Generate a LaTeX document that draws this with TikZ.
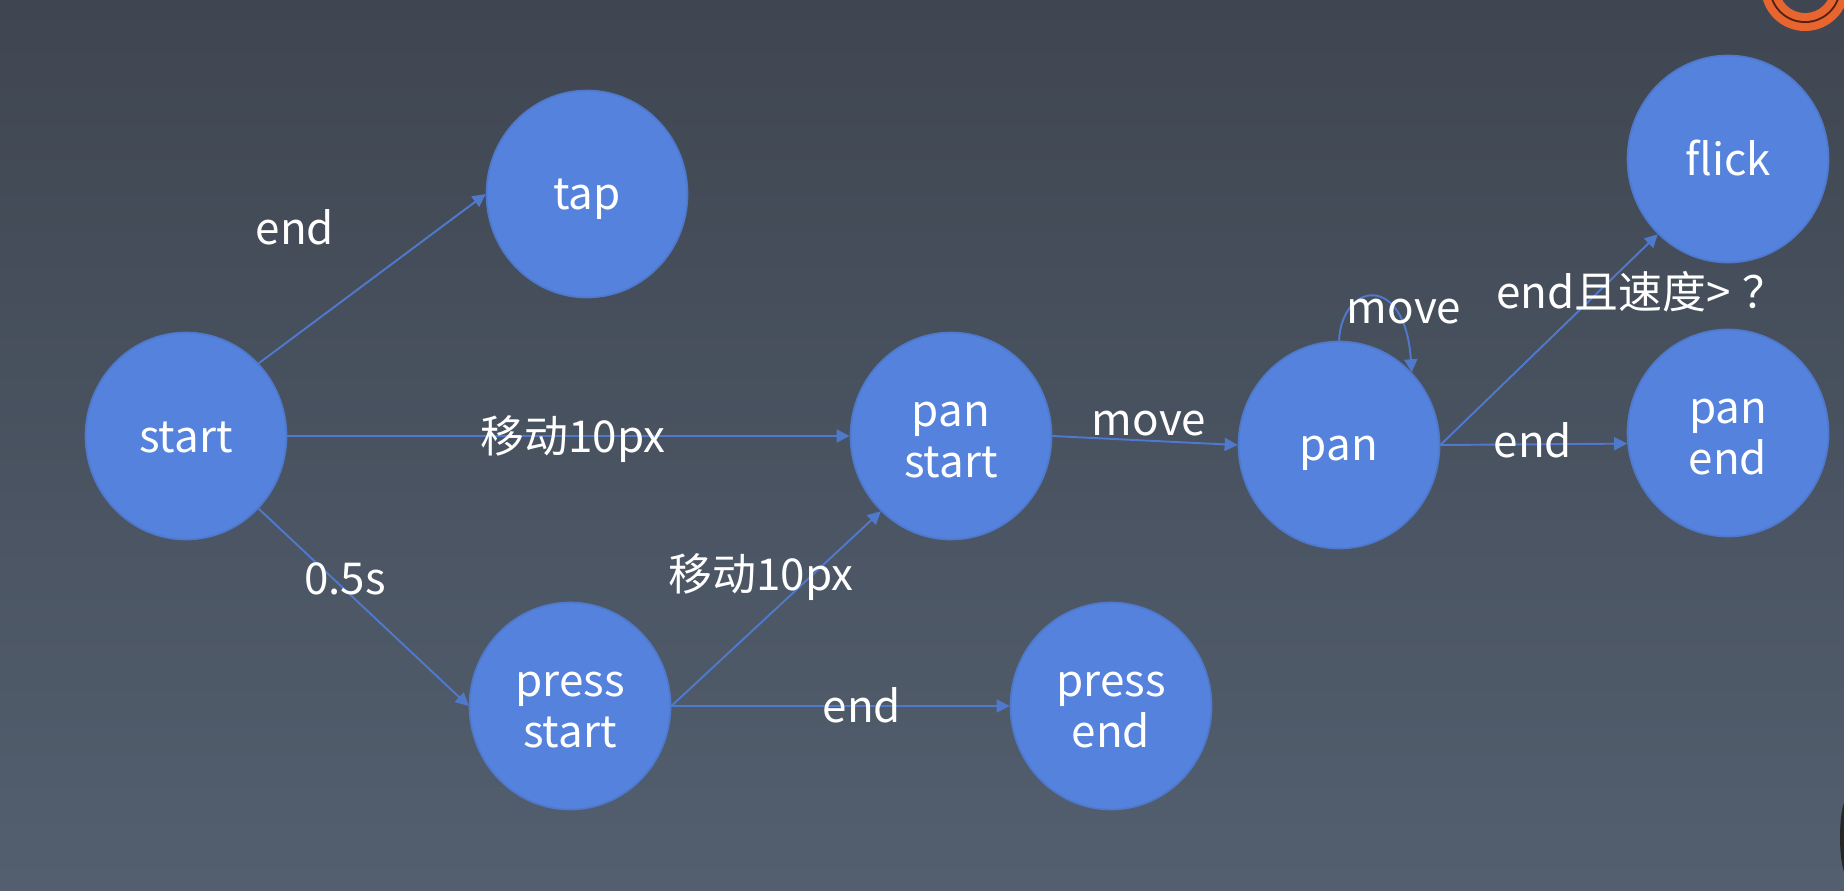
\documentclass[tikz,border=0pt]{standalone}
\usepackage{fontspec}
\setmainfont{Noto Sans CJK SC}
\usepackage{tikz}
\usetikzlibrary{shapes.geometric, arrows.meta}
\definecolor{bgtop}{HTML}{3F4651}
\definecolor{bgbottom}{HTML}{535F6F}
\definecolor{nodeblue}{HTML}{5482DC}
\definecolor{lineblue}{HTML}{4F79CC}
\definecolor{ringorange}{HTML}{E9652F}
\newcommand{\statefont}{\fontsize{25}{29}\selectfont\setlength{\lineskiplimit}{-10pt}}
\newcommand{\statestrut}{\rule[-5.2pt]{0pt}{29pt}}
\newcommand{\twolines}[2]{\statestrut #1\\\statestrut #2}
\tikzset{
	state/.style={draw=lineblue, line width=1pt, ellipse, fill=nodeblue, text=white, minimum width=4.02cm, minimum height=4.14cm, inner sep=0pt, align=center, font=\statefont},
	tag/.style={text=white, inner sep=0pt, font=\fontsize{25}{29}\selectfont},
	link/.style={draw=lineblue, line width=1.1pt, ->, >={Triangle[length=2.6mm, width=2.6mm]}},
}
\begin{document}
\begin{tikzpicture}[x=0.02cm, y=-0.02cm]
	\useasboundingbox (0, 0) rectangle (1844, 890);
	\clip (0, 0) rectangle (1844, 890);
	\shade[top color=bgtop, bottom color=bgbottom] (0, 0) rectangle (1844, 890);
	% corner marks
	\fill[ringorange] (1805, -13) circle[radius=44];
	\fill[ringorange!35!black] (1805, -13) circle[radius=36];
	\fill[ringorange] (1805, -13) circle[radius=34];
	\fill[bgtop] (1805, -13) circle[radius=26];
	\fill[black!85] (1848, 837) ellipse[x radius=8, y radius=40];
	% states
	\node[state] (start)at(186, 436) {\statestrut start};
	\node[state] (tap)at(587, 194) {\statestrut tap};
	\node[state] (panstart)at(951, 436) {\twolines{pan}{start}};
	\node[state] (pan)at(1339, 445) {\statestrut pan};
	\node[state] (flick)at(1728, 159) {\statestrut flick};
	\node[state] (panend)at(1728, 433) {\twolines{pan}{end}};
	\node[state] (pressstart)at(570, 706) {\twolines{press}{start}};
	\node[state] (pressend)at(1111, 706) {\twolines{press}{end}};
	% connectors
	\draw[link] (start.45) -- (tap.180);
	\draw[link] (start.0) -- (panstart.180);
	\draw[link] (start.-45) -- (pressstart.180);
	\draw[link] (pressstart.0) -- (panstart.-133);
	\draw[link] (pressstart.0) -- (pressend.180);
	\draw[link] (panstart.0) -- (pan.180);
	\draw[link] (pan.0) -- (panend.186);
	\draw[link] (pan.0) -- (flick.-133);
	\draw[link] (pan.90) .. controls (1342, 282) and (1405, 272) .. (pan.45);
	% labels
	\node[tag] (endtap)at(295, 227) {end};
	\node[tag] (movea)at(573, 439) {移动10px};
	\node[tag] (halfsec)at(345, 579) {0.5s};
	\node[tag] (moveb)at(761, 577) {移动10px};
	\node[tag] (endpress)at(862, 705) {end};
	\node[tag] (movec)at(1149, 424) {move};
	\node[tag] (moved)at(1404, 312) {move};
	\node[tag, anchor=west] (endspeed)at(1496, 292) {end且速度> \hspace{1pt}？};
	\node[tag] (endpan)at(1533, 440) {end};
\end{tikzpicture}
\end{document}
